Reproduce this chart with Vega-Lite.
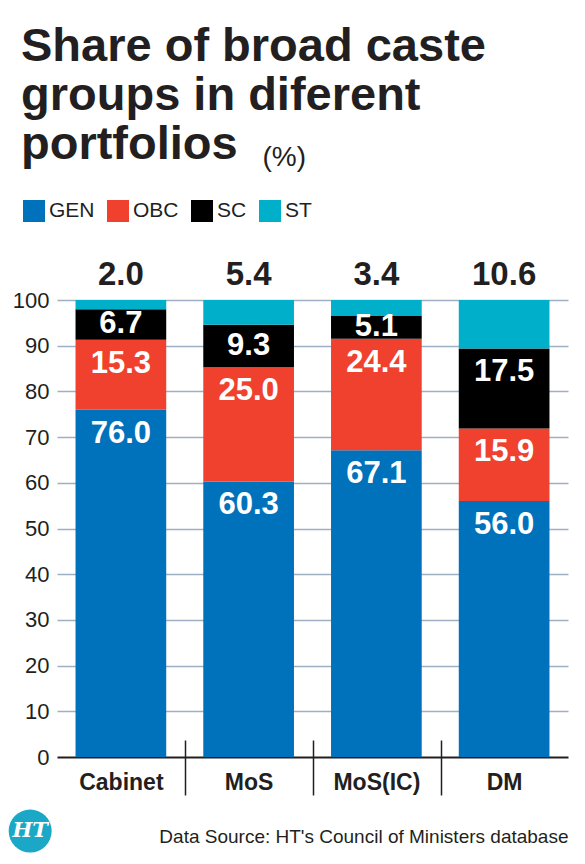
{
  "$schema": "https://vega.github.io/schema/vega-lite/v6.json",
  "width": 511,
  "height": 457,
  "autosize": {"type": "none"},
  "padding": {"left": 57, "top": 300, "right": 17, "bottom": 107},
  "background": "white",
  "title": {
    "text": ["Share of broad caste", "groups in diferent", "portfolios"],
    "anchor": "start",
    "frame": "group",
    "dx": -36,
    "offset": -26,
    "font": "Liberation Sans",
    "fontSize": 47,
    "fontWeight": "bold",
    "lineHeight": 49,
    "color": "#231f20"
  },
  "data": {
    "values": [
      {"portfolio": "Cabinet", "group": "GEN", "value": 76.0},
      {"portfolio": "Cabinet", "group": "OBC", "value": 15.3},
      {"portfolio": "Cabinet", "group": "SC", "value": 6.7},
      {"portfolio": "Cabinet", "group": "ST", "value": 2.0},
      {"portfolio": "MoS", "group": "GEN", "value": 60.3},
      {"portfolio": "MoS", "group": "OBC", "value": 25.0},
      {"portfolio": "MoS", "group": "SC", "value": 9.3},
      {"portfolio": "MoS", "group": "ST", "value": 5.4},
      {"portfolio": "MoS(IC)", "group": "GEN", "value": 67.1},
      {"portfolio": "MoS(IC)", "group": "OBC", "value": 24.4},
      {"portfolio": "MoS(IC)", "group": "SC", "value": 5.1},
      {"portfolio": "MoS(IC)", "group": "ST", "value": 3.4},
      {"portfolio": "DM", "group": "GEN", "value": 56.0},
      {"portfolio": "DM", "group": "OBC", "value": 15.9},
      {"portfolio": "DM", "group": "SC", "value": 17.5},
      {"portfolio": "DM", "group": "ST", "value": 10.6}
    ]
  },
  "config": {
    "view": {"stroke": null},
    "font": "Liberation Sans"
  },
  "layer": [
    {
      "mark": {"type": "bar"},
      "encoding": {
        "x": {
          "field": "portfolio",
          "type": "nominal",
          "sort": ["Cabinet", "MoS", "MoS(IC)", "DM"],
          "scale": {"paddingInner": 0.29, "paddingOuter": 0.145},
          "axis": {
            "title": "Data Source: HT's Council of Ministers database",
            "titleX": 511,
            "titleY": 102,
            "titleAlign": "right",
            "titleBaseline": "alphabetic",
            "titleFont": "Liberation Sans",
            "titleFontSize": 19,
            "titleFontWeight": "normal",
            "titleColor": "#231f20",
            "labelAngle": 0,
            "labelFont": "Liberation Sans",
            "labelFontSize": 23,
            "labelFontWeight": "bold",
            "labelColor": "#231f20",
            "labelPadding": -24,
            "labelOffset": 18,
            "domain": false,
            "grid": false,
            "bandPosition": 0,
            "tickOffset": -18,
            "tickSize": 55,
            "tickWidth": 1.5,
            "tickColor": {"condition": {"test": "datum.value === 'Cabinet'", "value": "transparent"}, "value": "#231f20"},
            "offset": -17
          }
        },
        "y": {
          "field": "value",
          "type": "quantitative",
          "stack": "zero",
          "scale": {"domain": [0, 100], "nice": false},
          "axis": {
            "values": [0, 10, 20, 30, 40, 50, 60, 70, 80, 90, 100],
            "title": "(%)",
            "titleAngle": 0,
            "titleX": 205,
            "titleY": -135,
            "titleAlign": "left",
            "titleBaseline": "alphabetic",
            "titleFont": "Liberation Sans",
            "titleFontSize": 28,
            "titleFontWeight": "normal",
            "titleColor": "#231f20",
            "domain": false,
            "ticks": false,
            "labelPadding": 8,
            "labelFont": "Liberation Sans",
            "labelFontSize": 22,
            "labelColor": "#231f20",
            "gridColor": {"condition": {"test": "datum.value === 0", "value": "#231f20"}, "value": "#9fb0c2"},
            "gridWidth": {"condition": {"test": "datum.value === 0", "value": 2.2}, "value": 1.3}
          }
        },
        "color": {
          "field": "group",
          "type": "nominal",
          "scale": {"domain": ["GEN", "OBC", "SC", "ST"], "range": ["#0072bc", "#ef412d", "#000000", "#00afc9"]},
          "legend": {
            "orient": "none",
            "legendX": -34,
            "legendY": -100,
            "direction": "horizontal",
            "title": null,
            "symbolType": "square",
            "symbolSize": 484,
            "symbolStrokeWidth": 0,
            "symbolOpacity": 1,
            "labelFont": "Liberation Sans",
            "labelFontSize": 21,
            "labelColor": "#231f20",
            "labelOffset": 4,
            "columnPadding": 12,
            "padding": 0
          }
        },
        "order": {"field": "group", "sort": "ascending"}
      }
    },
    {
      "transform": [
        {"stack": "value", "groupby": ["portfolio"], "sort": [{"field": "group", "order": "ascending"}], "as": ["v0", "v1"]},
        {"filter": "datum.group !== 'ST'"},
        {"calculate": "max(datum.v1 - 5.25, (datum.v0 + datum.v1) / 2)", "as": "labelY"}
      ],
      "mark": {"type": "text", "color": "white", "fontSize": 31, "fontWeight": "bold", "baseline": "middle", "align": "center"},
      "encoding": {
        "x": {"field": "portfolio", "type": "nominal", "sort": ["Cabinet", "MoS", "MoS(IC)", "DM"]},
        "y": {"field": "labelY", "type": "quantitative", "scale": {"domain": [0, 100], "nice": false}},
        "text": {"field": "value", "type": "quantitative", "format": ".1f"}
      }
    },
    {
      "transform": [
        {"stack": "value", "groupby": ["portfolio"], "sort": [{"field": "group", "order": "ascending"}], "as": ["v0", "v1"]},
        {"filter": "datum.group === 'ST'"}
      ],
      "mark": {"type": "text", "color": "#231f20", "fontSize": 33, "fontWeight": "bold", "baseline": "alphabetic", "align": "center", "dy": -15},
      "encoding": {
        "x": {"field": "portfolio", "type": "nominal", "sort": ["Cabinet", "MoS", "MoS(IC)", "DM"]},
        "y": {"field": "v1", "type": "quantitative", "scale": {"domain": [0, 100], "nice": false}},
        "text": {"field": "value", "type": "quantitative", "format": ".1f"}
      }
    },
    {
      "data": {"values": [{"brand": "HT"}]},
      "mark": {"type": "point", "shape": "circle", "filled": true, "size": 1849, "color": "#1ba8c6", "opacity": 1},
      "encoding": {
        "x": {"datum": "Cabinet", "type": "nominal", "bandPosition": -0.5},
        "y": {"datum": -16.2, "type": "quantitative", "scale": {"domain": [0, 100], "nice": false}}
      }
    },
    {
      "data": {"values": [{"brand": "HT"}]},
      "mark": {"type": "text", "font": "DejaVu Serif", "fontStyle": "italic", "fontWeight": "bold", "fontSize": 21, "color": "white", "baseline": "middle", "align": "center"},
      "encoding": {
        "x": {"datum": "Cabinet", "type": "nominal", "bandPosition": -0.5},
        "y": {"datum": -16.2, "type": "quantitative", "scale": {"domain": [0, 100], "nice": false}},
        "text": {"field": "brand"}
      }
    }
  ]
}
